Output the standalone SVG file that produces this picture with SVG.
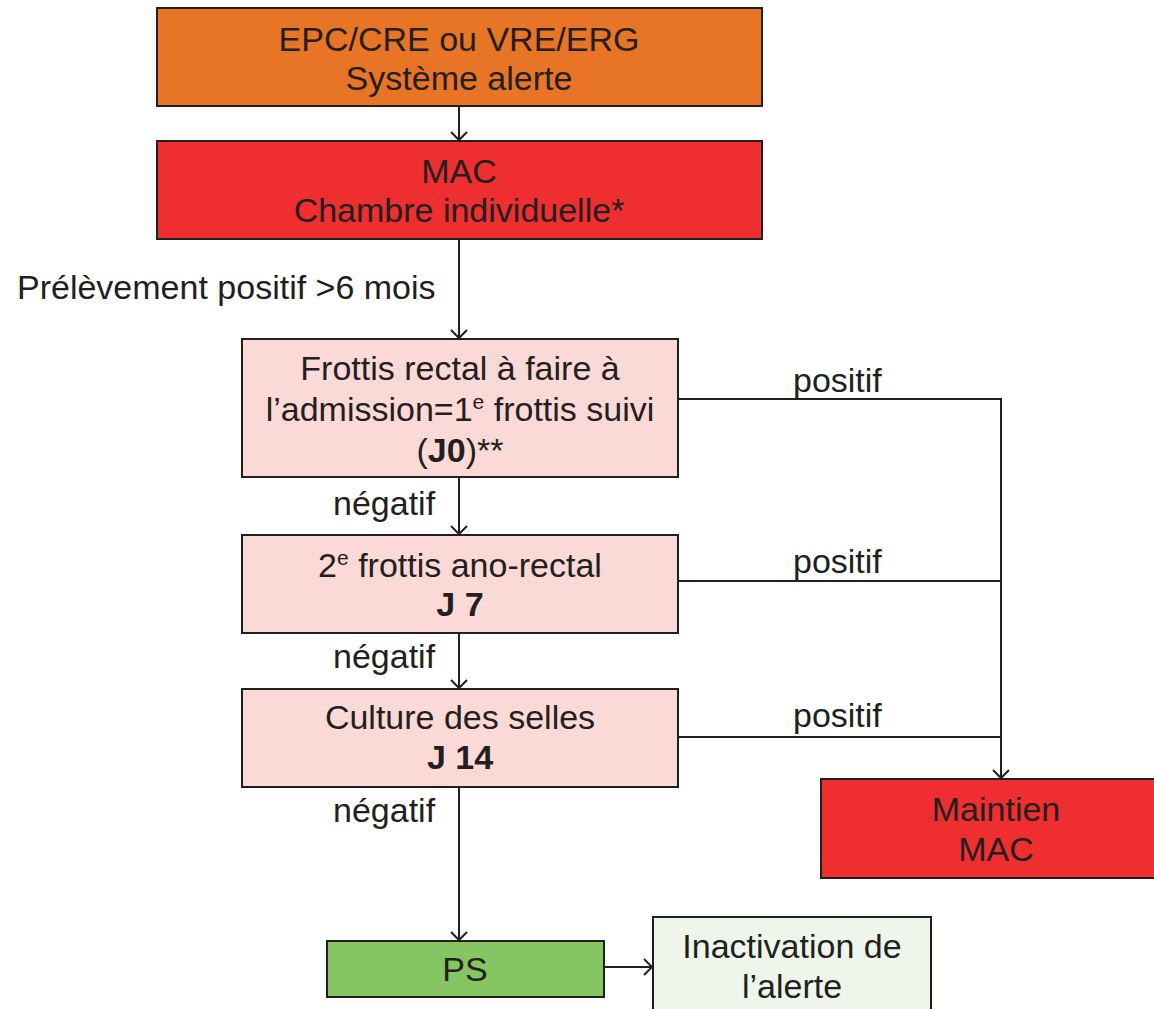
<svg xmlns="http://www.w3.org/2000/svg" width="1154" height="1009" viewBox="0 0 1154 1009">
<defs>
<style>
.box{stroke:#231F20;stroke-width:2}
.t{font-family:"Liberation Sans",Arial,sans-serif;font-size:34px;fill:#231F20;text-anchor:middle}
.l{font-family:"Liberation Sans",Arial,sans-serif;font-size:34px;fill:#231F20}
.b{font-weight:bold}
.sup{font-size:21px}
.c{fill:none;stroke:#231F20;stroke-width:2}
</style>
<marker id="arr" markerWidth="20" markerHeight="20" refX="10" refY="10" orient="auto" markerUnits="userSpaceOnUse">
<path d="M2,2 L10,10 L2,18" fill="none" stroke="#231F20" stroke-width="2"/>
</marker>
</defs>
<rect width="1154" height="1009" fill="#FFFFFF"/>
<g id="connectors">
<line class="c" x1="459" y1="106" x2="459" y2="140" marker-end="url(#arr)"/>
<line class="c" x1="459" y1="239" x2="459" y2="338" marker-end="url(#arr)"/>
<line class="c" x1="459" y1="477" x2="459" y2="534" marker-end="url(#arr)"/>
<line class="c" x1="459" y1="633" x2="459" y2="688" marker-end="url(#arr)"/>
<line class="c" x1="459" y1="787" x2="459" y2="940" marker-end="url(#arr)"/>
<line class="c" x1="604" y1="967" x2="652" y2="967" marker-end="url(#arr)"/>
<polyline class="c" points="678,399 1001,399 1001,778" marker-end="url(#arr)"/>
<line class="c" x1="678" y1="581" x2="1001" y2="581"/>
<line class="c" x1="678" y1="737" x2="1001" y2="737"/>
<text class="l" x="17" y="299">Prélèvement positif &gt;6 mois</text>
<text class="l" x="333" y="515">négatif</text>
<text class="l" x="333" y="668">négatif</text>
<text class="l" x="333" y="822">négatif</text>
<text class="l" x="793" y="392">positif</text>
<text class="l" x="793" y="573">positif</text>
<text class="l" x="793" y="727">positif</text>
</g>
<g id="n1">
<rect class="box" x="157" y="8" width="605" height="98" fill="#E87425"/>
<text class="t" x="459" y="51">EPC/CRE ou VRE/ERG</text>
<text class="t" x="459" y="90">Système alerte</text>
</g>
<g id="n2">
<rect class="box" x="157" y="141" width="605" height="98" fill="#EE2E2F"/>
<text class="t" x="459" y="183">MAC</text>
<text class="t" x="459" y="222">Chambre individuelle*</text>
</g>
<g id="n3">
<rect class="box" x="242" y="339" width="436" height="138" fill="#FBD9D6"/>
<text class="t" x="460" y="380">Frottis rectal à faire à</text>
<text class="t" x="460" y="421">l’admission=1<tspan class="sup" dy="-12">e</tspan><tspan dy="12"> frottis suivi</tspan></text>
<text class="t" x="460" y="462">(<tspan class="b">J0</tspan>)**</text>
</g>
<g id="n4">
<rect class="box" x="242" y="535" width="436" height="98" fill="#FBD9D6"/>
<text class="t" x="460" y="577">2<tspan class="sup" dy="-12">e</tspan><tspan dy="12"> frottis ano-rectal</tspan></text>
<text class="t b" x="460" y="616">J 7</text>
</g>
<g id="n5">
<rect class="box" x="242" y="689" width="436" height="98" fill="#FBD9D6"/>
<text class="t" x="460" y="729">Culture des selles</text>
<text class="t b" x="460" y="769">J 14</text>
</g>
<g id="n6">
<rect class="box" x="821" y="779" width="340" height="99" fill="#EE2E2F"/>
<text class="t" x="996" y="821">Maintien</text>
<text class="t" x="996" y="861">MAC</text>
</g>
<g id="n7">
<rect class="box" x="327" y="941" width="277" height="56" fill="#85C562"/>
<text class="t" x="465" y="981">PS</text>
</g>
<g id="n8">
<rect class="box" x="653" y="917" width="278" height="100" fill="#EEF6EB"/>
<text class="t" x="792" y="958">Inactivation de</text>
<text class="t" x="792" y="998">l’alerte</text>
</g>
</svg>
